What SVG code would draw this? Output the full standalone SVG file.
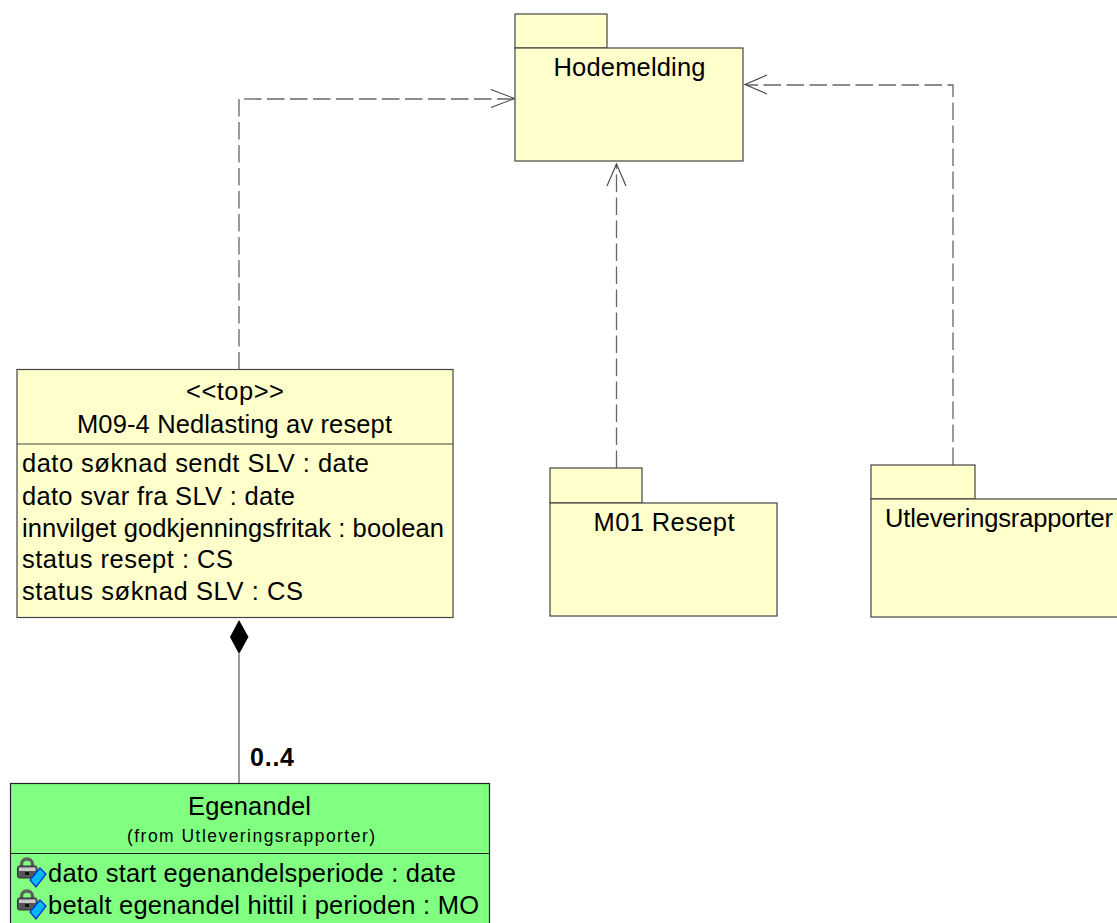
<svg xmlns="http://www.w3.org/2000/svg" width="1117" height="923" viewBox="0 0 1117 923">
<style>
text{font-family:"Liberation Sans",Arial,sans-serif;font-size:25.5px;fill:#000}
.box{fill:#ffffcc;stroke:#444;stroke-width:1.2}
.grn{fill:#80ff80;stroke:#222;stroke-width:1.2}
.dash{fill:none;stroke:#666;stroke-width:1.3;stroke-dasharray:17.500 5.500}
.head{fill:none;stroke:#444;stroke-width:1.1}
.sep{stroke:#444;stroke-width:1.1}
</style>
<defs>
<g id="key">
<path d="M4.500 10V7a5.500 5 0 0 1 11 0V10" fill="none" stroke="#606060" stroke-width="3.500"/>
<rect x="0.500" y="9" width="19.500" height="12" rx="2" fill="#555" stroke="#333"/>
<rect x="2" y="10.500" width="16.500" height="3.500" fill="#c8c8c8"/>
<rect x="8" y="15" width="4" height="3" fill="#111"/>
<path d="M13 23L23 11L29 17L19 30Z" fill="#00b8ff" stroke="#1030d0" stroke-width="1.300"/>
</g>
</defs>
<g id="connectors">
<path class="dash" d="M239 99V369"/>
<path class="dash" d="M244 99H514"/>
<path class="head" d="M491 89.500L514.500 98.500L491 107.500"/>
<path class="dash" d="M953 465V85H746"/>
<path class="head" d="M767 75L745 84.500L767 94"/>
<path class="dash" d="M616.500 468V164"/>
<path class="head" d="M607 186L616.500 164L626 186"/>
<path d="M239 654V783" fill="none" stroke="#666" stroke-width="1.300"/>
<path d="M239 620L248.500 637L239 654L230 637Z" fill="#000"/>
<text id="mult" x="250" y="766" font-weight="700" textLength="44" style="font-size:25px">0..4</text>
</g>
<g id="hodemelding">
<rect class="box" x="515" y="14" width="92" height="34"/>
<rect class="box" x="515" y="48" width="228" height="113"/>
<text x="553.500" y="76" textLength="152">Hodemelding</text>
</g>
<g id="m09-4">
<rect class="box" x="17" y="369.500" width="436" height="248"/>
<path class="sep" d="M17 444H453"/>
<text x="186" y="400" textLength="98">&lt;&lt;top&gt;&gt;</text>
<text x="77" y="433" textLength="315">M09-4 Nedlasting av resept</text>
<text x="22" y="472" textLength="347">dato søknad sendt SLV : date</text>
<text x="22" y="505" textLength="273">dato svar fra SLV : date</text>
<text x="22" y="536.500" textLength="422">innvilget godkjenningsfritak : boolean</text>
<text x="22" y="568" textLength="211">status resept : CS</text>
<text x="22" y="600" textLength="281">status søknad SLV : CS</text>
</g>
<g id="m01-resept">
<rect class="box" x="550" y="468" width="92" height="35"/>
<rect class="box" x="550" y="503" width="227" height="113"/>
<text x="593.500" y="531" textLength="141">M01 Resept</text>
</g>
<g id="utleveringsrapporter">
<rect class="box" x="871" y="465" width="104" height="34"/>
<rect class="box" x="871" y="499" width="250" height="118"/>
<text x="885" y="527" textLength="228">Utleveringsrapporter</text>
</g>
<g id="egenandel">
<rect class="grn" x="10.500" y="783.500" width="479" height="145"/>
<path class="sep" d="M10.500 853.500H489.500" style="stroke:#222"/>
<text x="188" y="815" textLength="123">Egenandel</text>
<text x="127" y="842" textLength="248" style="font-size:17.500px">(from Utleveringsrapporter)</text>
<use href="#key" x="17" y="857"/>
<text x="48" y="882" textLength="408">dato start egenandelsperiode : date</text>
<use href="#key" x="17" y="889"/>
<text x="48" y="914" textLength="431">betalt egenandel hittil i perioden : MO</text>
</g>
</svg>
